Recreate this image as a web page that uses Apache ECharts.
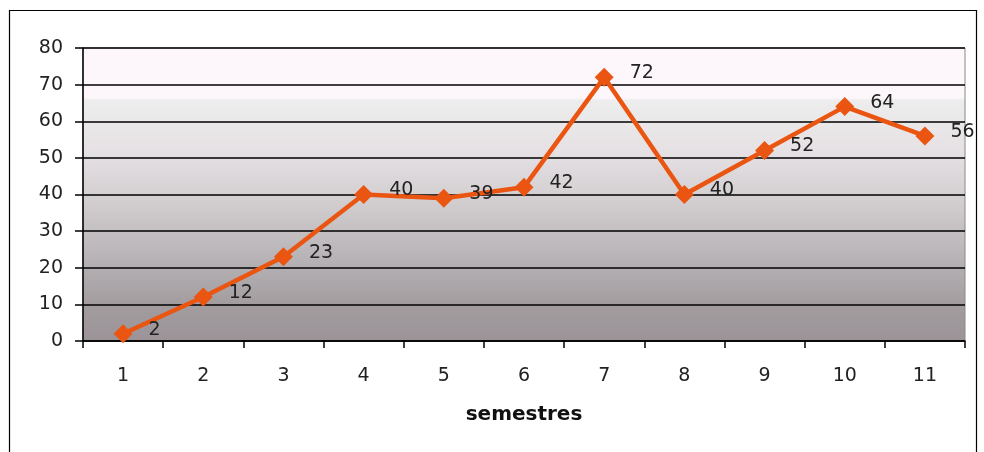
<!DOCTYPE html>
<html><head><meta charset="utf-8">
<script src="https://cdn.jsdelivr.net/npm/echarts@6/dist/echarts.min.js"></script>
<style>html,body{margin:0;padding:0;background:#fff}#c{width:984px;height:452px}</style>
</head><body><div id="c"></div>
<script>
const categories = ['1','2','3','4','5','6','7','8','9','10','11'];
const values = [2,12,23,40,39,42,72,40,52,64,56];
const yTicks = [0,10,20,30,40,50,60,70,80];
const xTitle = 'semestres';

const chart = echarts.init(document.getElementById('c'));
chart.setOption({
  animation:false,
  backgroundColor:'#fff',
  graphic:[{type:'rect',shape:{x:9.5,y:10.5,width:967,height:460},style:{fill:'none',stroke:'#000',lineWidth:1.2},z:-1}],
  grid:{left:83,right:19,top:48,bottom:111,show:true,borderColor:'#888',borderWidth:1,
    backgroundColor:{type:'linear',x:0,y:0,x2:0,y2:1,colorStops:[
      {offset:0,color:'#fdf6fb'},{offset:0.17,color:'#fdf7fc'},{offset:0.18,color:'#ededed'},
      {offset:0.35,color:'#e6e1e4'},{offset:0.55,color:'#cfcbcd'},{offset:0.75,color:'#b3aeb1'},
      {offset:0.88,color:'#a29c9f'},{offset:1,color:'#9b9397'}]}},
  xAxis:{type:'category',data:categories,boundaryGap:true,
    name:xTitle,nameLocation:'middle',nameGap:64,
    nameTextStyle:{fontFamily:'DejaVu Sans',fontSize:20,fontWeight:'bold',color:'#111'},
    axisLine:{lineStyle:{color:'#000',width:1.5}},
    axisTick:{show:true,alignWithLabel:false,length:7,lineStyle:{color:'#000',width:1.5}},
    axisLabel:{margin:26,fontFamily:'DejaVu Sans',fontSize:19,color:'#222'},
    splitLine:{show:false}},
  yAxis:{type:'value',min:yTicks[0],max:yTicks[yTicks.length-1],interval:10,
    axisLine:{show:true,lineStyle:{color:'#000',width:1.5}},
    axisTick:{show:true,length:8,lineStyle:{color:'#000',width:1.5}},
    axisLabel:{margin:20,fontFamily:'DejaVu Sans',fontSize:19,color:'#222'},
    splitLine:{show:true,lineStyle:{color:'#000',width:1.5}}},
  series:[{type:'line',data:values,symbol:'diamond',symbolSize:19,
    lineStyle:{color:'#ea5512',width:4.5},itemStyle:{color:'#ea5512'},
    label:{show:true,position:'right',distance:10,offset:[6,-4],
      fontFamily:'DejaVu Sans',fontSize:19,color:'#222'}}]
});
</script></body></html>
